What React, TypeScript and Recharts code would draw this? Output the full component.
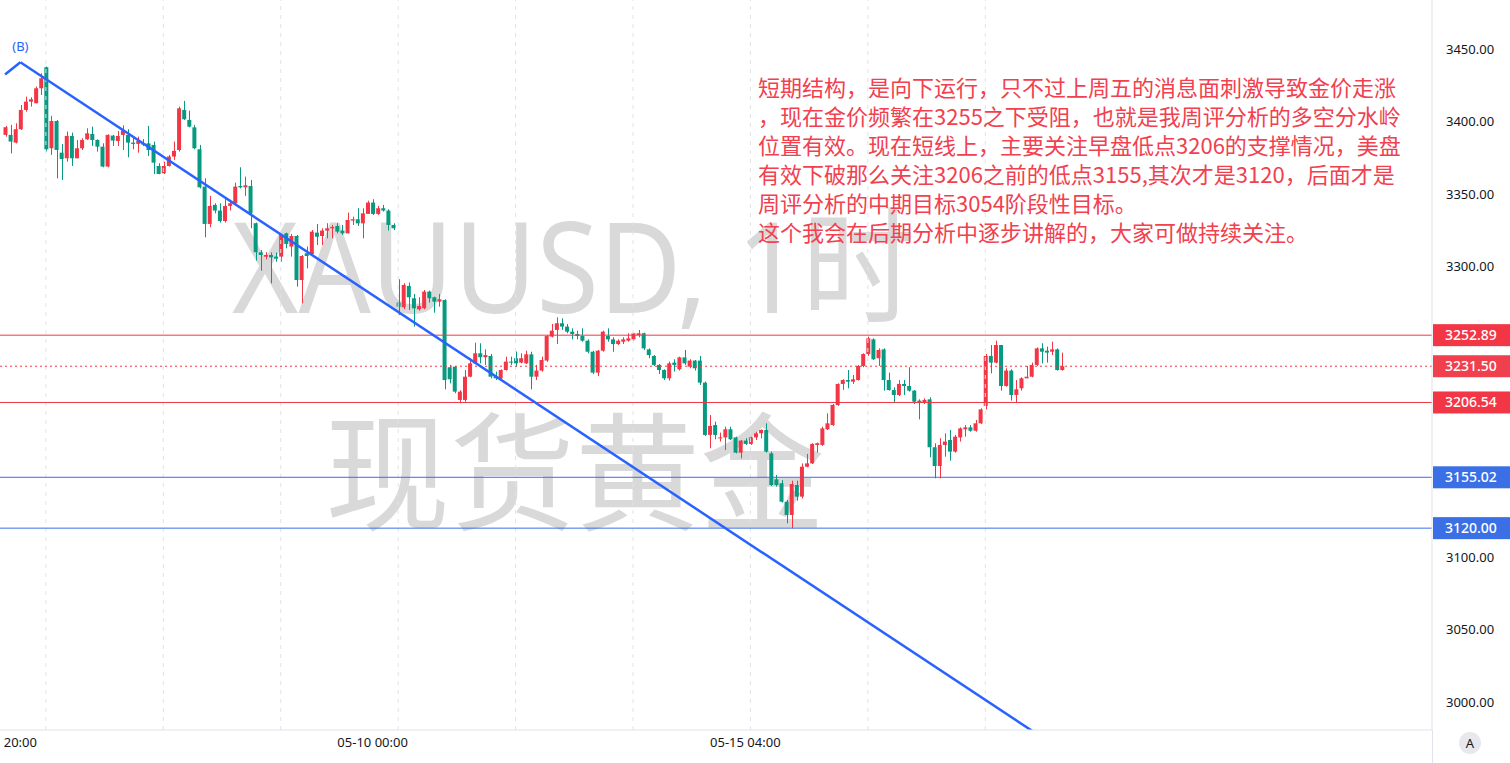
import React from 'react';
import { ComposedChart, Bar, XAxis, YAxis, ReferenceLine, ReferenceDot } from 'recharts';

// hourly XAUUSD candles (red = up, green = down)
const opens = [
  3390.8, 3390.8, 3385.5, 3394.7, 3408.0, 3413.7, 3412.6, 3422.9, 3437.4, 3381.6,
  3400.4, 3378.6, 3374.7, 3390.1, 3374.7, 3381.6, 3387.8, 3391.5, 3387.3, 3382.7,
  3369.0, 3390.3, 3386.6, 3390.8, 3390.8, 3385.5, 3384.6, 3385.0, 3385.0, 3383.9,
  3369.4, 3364.4, 3369.4, 3375.9, 3380.4, 3408.0, 3401.1, 3396.0, 3380.9, 3355.2,
  3329.5, 3342.6, 3338.7, 3331.5, 3341.9, 3343.7, 3355.6, 3354.7, 3355.6, 3330.0,
  3310.0, 3306.9, 3308.1, 3307.0, 3307.0, 3323.0, 3313.9, 3321.2, 3290.9, 3309.3,
  3308.8, 3323.5, 3321.2, 3324.9, 3326.5, 3328.1, 3324.9, 3323.0, 3331.8, 3332.7,
  3329.9, 3336.4, 3344.2, 3336.4, 3340.3, 3338.7, 3328.8, 3275.3, 3272.1, 3286.8,
  3278.3, 3270.7, 3271.4, 3282.9, 3279.0, 3276.0, 3277.1, 3230.8, 3231.2, 3208.3,
  3208.3, 3224.3, 3233.5, 3240.4, 3237.7, 3238.6, 3224.3, 3223.2, 3228.9, 3234.7,
  3237.0, 3234.0, 3233.5, 3239.7, 3224.3, 3228.5, 3235.4, 3251.9, 3256.5, 3261.1,
  3258.8, 3255.3, 3253.7, 3252.3, 3249.1, 3241.5, 3227.1, 3242.2, 3252.3, 3250.0,
  3246.8, 3248.4, 3249.1, 3250.0, 3253.0, 3254.2, 3243.1, 3238.6, 3232.4, 3228.9,
  3223.2, 3234.0, 3229.4, 3237.6, 3231.2, 3235.4, 3235.4, 3220.2, 3184.2, 3191.0,
  3181.9, 3182.5, 3188.1, 3182.5, 3172.0, 3180.3, 3178.0, 3182.5, 3185.3, 3187.6,
  3171.5, 3153.6, 3150.9, 3138.2, 3129.1, 3149.7, 3141.7, 3162.3, 3164.6, 3177.3,
  3177.3, 3188.1, 3191.0, 3204.8, 3219.3, 3222.0, 3220.9, 3222.0, 3231.7, 3239.9,
  3250.0, 3237.0, 3243.1, 3222.0, 3215.1, 3211.7, 3219.3, 3217.9, 3214.7, 3207.8,
  3206.4, 3208.7, 3175.7, 3162.8, 3177.3, 3180.7, 3172.7, 3182.5, 3188.1, 3189.4,
  3187.1, 3192.2, 3204.1, 3238.6, 3234.0, 3246.1, 3217.9, 3228.5, 3211.7, 3216.3,
  3223.2, 3224.3, 3232.4, 3243.8, 3242.2, 3241.5, 3243.1, 3228.9,
];
const highs = [
  3397.0, 3397.7, 3398.8, 3411.4, 3417.2, 3416.7, 3424.1, 3433.2, 3437.8, 3403.9,
  3401.1, 3384.6, 3393.1, 3392.4, 3387.3, 3388.5, 3395.4, 3396.5, 3387.8, 3385.0,
  3391.2, 3390.8, 3393.5, 3397.4, 3394.7, 3389.2, 3389.6, 3388.0, 3397.0, 3386.2,
  3371.3, 3372.4, 3377.0, 3386.2, 3410.3, 3414.2, 3407.5, 3397.7, 3383.9, 3360.9,
  3348.8, 3343.7, 3343.7, 3347.2, 3346.0, 3357.9, 3368.5, 3362.1, 3359.8, 3330.4,
  3311.6, 3310.0, 3309.8, 3309.8, 3322.6, 3323.5, 3322.6, 3321.9, 3308.1, 3313.9,
  3325.3, 3329.5, 3326.5, 3330.0, 3328.8, 3330.0, 3328.8, 3337.3, 3334.5, 3340.3,
  3340.3, 3345.5, 3346.5, 3341.9, 3342.6, 3339.6, 3329.9, 3291.4, 3288.6, 3289.1,
  3281.3, 3279.0, 3284.0, 3283.6, 3279.4, 3281.3, 3277.6, 3232.4, 3231.7, 3215.0,
  3228.9, 3237.0, 3247.7, 3247.3, 3243.1, 3240.0, 3227.8, 3229.4, 3238.1, 3238.1,
  3241.6, 3240.4, 3242.2, 3241.5, 3232.4, 3238.1, 3253.0, 3260.6, 3265.2, 3264.5,
  3260.6, 3257.6, 3256.0, 3257.6, 3250.0, 3242.2, 3242.7, 3256.0, 3257.6, 3251.4,
  3250.0, 3251.4, 3254.2, 3254.6, 3256.5, 3254.6, 3243.8, 3239.2, 3233.0, 3229.4,
  3234.7, 3236.3, 3238.1, 3242.7, 3236.3, 3235.8, 3238.6, 3220.9, 3197.9, 3193.3,
  3185.8, 3189.9, 3189.9, 3183.0, 3180.7, 3181.9, 3183.0, 3186.4, 3188.0, 3192.2,
  3172.7, 3156.6, 3153.1, 3139.4, 3152.7, 3152.7, 3164.6, 3171.1, 3178.5, 3178.9,
  3189.9, 3199.1, 3205.5, 3219.7, 3222.5, 3228.9, 3225.5, 3232.4, 3240.4, 3251.9,
  3250.7, 3243.8, 3243.8, 3227.1, 3217.0, 3222.0, 3222.0, 3230.8, 3215.1, 3208.7,
  3209.4, 3210.1, 3178.4, 3181.9, 3185.3, 3187.6, 3184.2, 3189.4, 3191.0, 3191.0,
  3194.5, 3202.5, 3239.9, 3246.1, 3249.1, 3246.1, 3230.1, 3229.4, 3222.0, 3223.9,
  3231.7, 3234.0, 3244.5, 3247.3, 3245.0, 3248.4, 3243.8, 3240.9,
];
const lows = [
  3389.6, 3378.1, 3385.0, 3394.2, 3406.8, 3410.3, 3412.6, 3418.3, 3379.3, 3377.0,
  3360.9, 3359.8, 3372.4, 3369.4, 3374.7, 3380.4, 3387.3, 3383.2, 3379.3, 3368.5,
  3368.5, 3383.2, 3383.2, 3380.4, 3375.4, 3380.9, 3378.6, 3383.2, 3376.3, 3363.9,
  3363.7, 3363.9, 3369.0, 3373.6, 3379.3, 3401.1, 3396.0, 3380.9, 3354.0, 3320.3,
  3327.2, 3336.8, 3330.4, 3330.4, 3338.7, 3343.2, 3354.0, 3348.8, 3326.5, 3304.2,
  3297.3, 3305.1, 3288.6, 3303.5, 3303.5, 3312.7, 3307.0, 3286.3, 3274.8, 3298.9,
  3308.1, 3315.0, 3315.0, 3319.6, 3319.6, 3323.0, 3321.9, 3323.0, 3328.8, 3328.1,
  3319.6, 3336.4, 3335.7, 3335.7, 3338.0, 3324.9, 3325.3, 3266.8, 3270.7, 3270.3,
  3258.8, 3269.8, 3270.7, 3275.3, 3268.4, 3272.5, 3215.6, 3219.7, 3212.9, 3206.0,
  3207.0, 3223.9, 3233.0, 3233.5, 3232.4, 3223.2, 3222.0, 3222.0, 3228.5, 3232.4,
  3231.2, 3233.5, 3233.0, 3215.6, 3222.0, 3227.8, 3234.6, 3251.4, 3246.8, 3256.5,
  3254.2, 3250.0, 3250.0, 3248.4, 3240.4, 3226.2, 3224.8, 3241.5, 3248.4, 3241.5,
  3246.1, 3246.8, 3248.4, 3249.1, 3251.4, 3242.7, 3237.0, 3231.7, 3226.2, 3222.0,
  3221.6, 3227.8, 3228.5, 3232.4, 3230.1, 3228.5, 3218.6, 3183.5, 3175.0, 3181.2,
  3179.6, 3173.8, 3180.7, 3171.5, 3168.1, 3177.3, 3177.3, 3180.7, 3181.9, 3172.0,
  3149.0, 3148.6, 3137.6, 3123.3, 3119.9, 3138.9, 3140.5, 3161.9, 3164.2, 3172.0,
  3176.6, 3187.6, 3190.4, 3204.1, 3215.2, 3216.3, 3219.3, 3221.6, 3230.8, 3238.6,
  3235.8, 3231.7, 3214.7, 3214.7, 3206.4, 3211.0, 3211.7, 3214.0, 3205.5, 3194.9,
  3205.5, 3168.8, 3154.3, 3154.3, 3169.2, 3166.5, 3172.0, 3179.6, 3183.0, 3186.4,
  3186.4, 3191.7, 3201.8, 3226.6, 3233.5, 3214.7, 3217.4, 3207.8, 3206.4, 3214.7,
  3223.2, 3223.9, 3231.7, 3233.5, 3234.0, 3239.2, 3228.5, 3228.5,
];
const closes = [
  3396.1, 3386.2, 3394.7, 3408.0, 3413.7, 3415.3, 3422.9, 3429.8, 3380.9, 3400.4,
  3380.4, 3374.2, 3390.1, 3374.7, 3381.6, 3387.3, 3391.9, 3387.3, 3382.7, 3369.0,
  3390.8, 3386.9, 3390.1, 3393.8, 3385.5, 3384.6, 3386.6, 3384.1, 3380.4, 3371.7,
  3363.9, 3369.4, 3375.9, 3379.8, 3409.1, 3401.6, 3396.5, 3381.6, 3354.7, 3329.5,
  3341.9, 3338.7, 3331.5, 3341.9, 3343.7, 3355.2, 3354.7, 3356.1, 3336.8, 3310.0,
  3308.1, 3308.1, 3306.5, 3305.6, 3321.9, 3315.7, 3321.2, 3290.9, 3307.4, 3307.4,
  3324.2, 3320.7, 3324.9, 3326.5, 3327.4, 3324.2, 3323.0, 3332.2, 3332.7, 3329.9,
  3336.8, 3344.2, 3336.4, 3340.3, 3338.7, 3328.8, 3326.5, 3272.5, 3287.5, 3279.0,
  3271.4, 3273.0, 3282.9, 3278.3, 3276.0, 3277.6, 3222.0, 3222.5, 3214.0, 3214.0,
  3224.3, 3233.5, 3240.4, 3237.7, 3239.2, 3224.3, 3223.2, 3228.9, 3234.7, 3234.0,
  3233.5, 3237.0, 3239.7, 3224.3, 3228.5, 3235.8, 3252.3, 3256.0, 3261.1, 3258.8,
  3255.3, 3253.7, 3252.3, 3249.1, 3241.5, 3227.1, 3242.2, 3255.3, 3250.0, 3246.8,
  3249.1, 3250.0, 3250.7, 3254.2, 3254.2, 3243.8, 3239.2, 3232.4, 3228.9, 3223.2,
  3233.5, 3232.4, 3237.6, 3233.5, 3235.4, 3230.1, 3220.2, 3184.2, 3190.4, 3184.2,
  3182.5, 3188.1, 3181.2, 3172.0, 3180.3, 3178.0, 3182.5, 3185.3, 3187.6, 3172.7,
  3149.7, 3149.7, 3138.2, 3129.1, 3150.4, 3141.7, 3162.3, 3164.6, 3178.0, 3178.5,
  3188.7, 3192.2, 3204.8, 3219.3, 3222.0, 3220.9, 3222.5, 3231.7, 3239.9, 3250.7,
  3236.3, 3242.7, 3222.0, 3215.1, 3211.7, 3219.3, 3217.9, 3214.7, 3207.1, 3206.4,
  3208.3, 3175.7, 3162.8, 3177.3, 3179.6, 3172.7, 3183.0, 3188.7, 3189.4, 3187.1,
  3192.2, 3201.8, 3238.6, 3234.0, 3246.1, 3217.9, 3228.5, 3211.7, 3215.6, 3223.2,
  3224.3, 3232.4, 3243.8, 3241.5, 3240.9, 3243.1, 3228.9, 3231.5,
];

const SLOTS = 280; // visible bar slots incl. empty space on the right

// 3150/3200/3250 sit under the level tags, so they are left out
const priceTicks = [3000, 3050, 3100, 3300, 3350, 3400, 3450];
const timeTickIndex = [3, 72, 145];
const timeTickLabels = ['20:00', '05-10 00:00', '05-15 04:00'];
const dayGridIndex = [8, 31, 54, 77, 100, 123, 146, 169, 192];

const resistance = 3252.89;
const lastPrice = 3231.5;
const support = 3206.54;
const blueLevels = [3155.02, 3120.0];

// downtrend line through wave (B)
const trendPoints = [
  { i: 0, price: 3432.4 },
  { i: 3, price: 3440.8 },
  { i: 207, price: 2966.9 },
];

const noteLines = [
  '短期结构，是向下运行，只不过上周五的消息面刺激导致金价走涨',
  '，现在金价频繁在3255之下受阻，也就是我周评分析的多空分水岭',
  '位置有效。现在短线上，主要关注早盘低点3206的支撑情况，美盘',
  '有效下破那么关注3206之前的低点3155,其次才是3120，后面才是',
  '周评分析的中期目标3054阶段性目标。',
  '这个我会在后期分析中逐步讲解的，大家可做持续关注。',
];

const data = Array.from({ length: SLOTS }, (_, i) =>
  i < opens.length
    ? { i, open: opens[i], high: highs[i], low: lows[i], close: closes[i] }
    : { i }
);

const UP = '#F23645';
const DOWN = '#089981';
const BLUE = '#2962FF';

const Candle = (props: any) => {
  const { x, y, width, height, payload } = props;
  if (!payload || payload.open == null) return null;
  const { open, close, high, low } = payload;
  let top = y;
  let h = height;
  if (h < 0) {
    top = y + h;
    h = -h;
  }
  const k = high === low ? 0 : h / (high - low);
  const yO = top + (high - open) * k;
  const yC = top + (high - close) * k;
  const color = close >= open ? UP : DOWN;
  const cx = Math.round(x + width / 2) + 0.5;
  return (
    <g>
      <line x1={cx} x2={cx} y1={top} y2={top + h} stroke={color} strokeWidth={1} />
      <rect x={x} y={Math.min(yO, yC)} width={width} height={Math.max(1, Math.abs(yO - yC))} fill={color} />
    </g>
  );
};

const priceTag = (fill: string, value: number) => (props: any) => {
  const { viewBox } = props;
  if (!viewBox) return null;
  const x = viewBox.x + viewBox.width;
  return (
    <g>
      <rect x={x + 1} y={viewBox.y - 11} width={80} height={22} fill={fill} />
      <text x={x + 13} y={viewBox.y + 5} fill="#fff" fontSize={14} fontWeight={500}>
        {value.toFixed(2)}
      </text>
    </g>
  );
};

export default function App() {
  return (
    <div
      style={{
        position: 'absolute',
        left: 0,
        top: 0,
        width: 1510,
        height: 763,
        background: '#fff',
        overflow: 'hidden',
        fontFamily: '"Noto Sans", "Noto Sans CJK SC", sans-serif',
      }}
    >
      {/* watermark */}
      <svg width={1510} height={763} style={{ position: 'absolute', left: 0, top: 0 }}>
        <text x={232} y={313} fontSize={126} fill="#d9d9d9" textLength={683} lengthAdjust="spacingAndGlyphs"
          fontFamily='"Noto Sans", "Noto Sans CJK SC", sans-serif'>
          XAUUSD, 1时
        </text>
        <text x={325} y={521} fontSize={128} fill="#d9d9d9" textLength={500} lengthAdjust="spacingAndGlyphs"
          fontFamily='"Noto Sans CJK SC", sans-serif'>
          现货黄金
        </text>
      </svg>

      <div style={{ position: 'absolute', left: 0, top: 0 }}>
        <ComposedChart width={1510} height={763} data={data} margin={{ top: 0, right: 0, bottom: 0, left: 0 }}>
          <XAxis
            dataKey="i"
            type="category"
            height={33}
            padding={{ left: 2.5, right: 0 }}
            ticks={timeTickIndex}
            interval={0}
            tickFormatter={(v: number) => timeTickLabels[timeTickIndex.indexOf(v)] ?? ''}
            tickLine={false}
            axisLine={{ stroke: '#e0e3eb' }}
            tick={{ fontSize: 13, fill: '#131722' }}
          />
          <YAxis
            orientation="right"
            width={78}
            domain={[2981, 3483.7]}
            allowDataOverflow
            ticks={priceTicks}
            tickFormatter={(v: number) => v.toFixed(2)}
            tickLine={false}
            tickMargin={8}
            axisLine={{ stroke: '#e0e3eb' }}
            tick={{ fontSize: 13, fill: '#131722' }}
          />
          {dayGridIndex.map((g) => (
            <ReferenceLine key={'g' + g} x={g} stroke="#e0e3eb" strokeDasharray="4 5" />
          ))}
          <Bar
            dataKey={(d: any) => (d.open == null ? null : [d.low, d.high])}
            barSize={4}
            shape={Candle}
            isAnimationActive={false}
          />
          <ReferenceLine y={resistance} stroke={UP} label={priceTag('#F23645', resistance)} />
          <ReferenceLine y={lastPrice} stroke={UP} strokeDasharray="2 3" label={priceTag('#F0404E', lastPrice)} />
          <ReferenceLine y={support} stroke={UP} label={priceTag('#F23645', support)} />
          {blueLevels.map((p) => (
            <ReferenceLine key={'b' + p} y={p} stroke="#3B6FE5" label={priceTag('#3B6FE5', p)} />
          ))}
          {trendPoints.slice(1).map((p, k) => (
            <ReferenceLine
              key={'t' + k}
              segment={[
                { x: trendPoints[k].i, y: trendPoints[k].price },
                { x: p.i, y: p.price },
              ]}
              stroke={BLUE}
              strokeWidth={2.5}
              ifOverflow="hidden"
            />
          ))}
          <ReferenceDot
            x={trendPoints[1].i}
            y={trendPoints[1].price}
            r={0}
            stroke="none"
            fill="none"
            label={{ value: '(B)', position: 'top', offset: 11, fill: BLUE, fontSize: 13 }}
          />
        </ComposedChart>
      </div>

      {/* analyst note */}
      <div
        style={{
          position: 'absolute',
          left: 758,
          top: 72,
          fontSize: 22,
          lineHeight: '29px',
          color: '#F2404F',
          fontFamily: '"Noto Sans CJK SC", sans-serif',
          whiteSpace: 'pre',
        }}
      >
        {noteLines.join('\n')}
      </div>

      {/* auto-scale button */}
      <div
        style={{
          position: 'absolute',
          left: 1459,
          top: 732,
          width: 22,
          height: 22,
          borderRadius: 11,
          background: '#e6e8ee',
          color: '#131722',
          fontSize: 13,
          lineHeight: '22px',
          textAlign: 'center',
        }}
      >
        A
      </div>
      <div style={{ position: 'absolute', left: 1432, top: 730, width: 1, height: 33, background: '#e0e3eb' }} />
    </div>
  );
}
